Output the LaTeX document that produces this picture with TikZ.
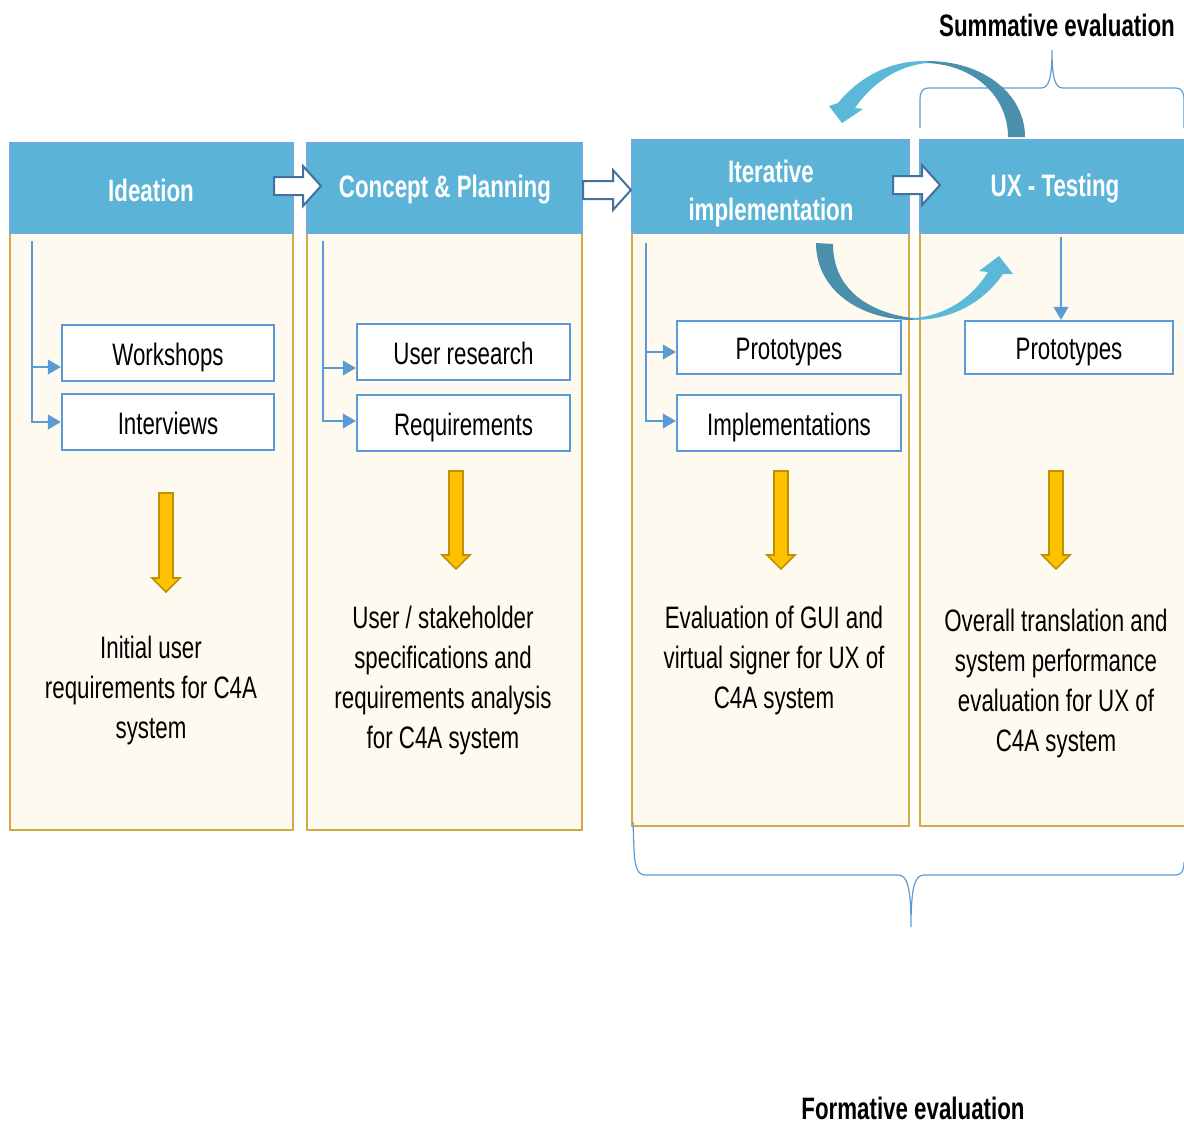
\documentclass[tikz,border=0pt]{standalone}
\usepackage{fontspec}
\setmainfont[FakeStretch=0.72]{Liberation Sans}
\usepackage{tikz}
\usetikzlibrary{positioning}
\usetikzlibrary{calc,arrows.meta}

\definecolor{HeadBlue}{RGB}{91,180,216}
\definecolor{HeadEdge}{RGB}{110,170,220}
\definecolor{BodyFill}{RGB}{255,250,240}
\definecolor{BodyEdge}{RGB}{212,170,70}
\definecolor{BoxEdge}{RGB}{91,155,213}
\definecolor{ArrEdge}{RGB}{65,113,156}
\definecolor{GoldFill}{RGB}{255,192,0}
\definecolor{GoldEdge}{RGB}{191,144,0}
\definecolor{LoopDark}{RGB}{74,144,173}
\definecolor{LoopLight}{RGB}{91,184,216}

\tikzset{
	header/.style={fill=HeadBlue, draw=HeadEdge, line width=0.6pt},
	body/.style={fill=BodyFill, draw=BodyEdge, line width=0.6pt},
	headtext/.style={text=white, font=\fontsize{15.5}{19}\selectfont\bfseries, align=center},
	subbox/.style={draw=BoxEdge, fill=white, line width=1.2pt, minimum height=28pt, inner sep=0pt,
		text height=12pt, text depth=0pt, font=\fontsize{15.5}{19}\selectfont},
	tree/.style={draw=BoxEdge, line width=0.6pt, -{Triangle[length=6.5pt,width=7.5pt]}},
	result/.style={font=\fontsize{15.5}{20}\selectfont, align=center},
	hollow/.style={fill=white, draw=ArrEdge, line width=1pt, line join=miter},
	gold/.style={fill=GoldFill, draw=GoldEdge, line width=0.8pt},
	brace/.style={draw=BoxEdge, line width=0.6pt},
	evaltext/.style={font=\fontsize{15.5}{19}\selectfont\bfseries},
}

% hollow arrow between two headers: x start, x tip, y
\newcommand{\flowarrow}[3]{%
	\draw[hollow] (#1,#3-9) -- (#2-18,#3-9) -- (#2-18,#3-20) -- (#2,#3)
		-- (#2-18,#3+20) -- (#2-18,#3+9) -- (#1,#3+9) -- cycle;}

% block arrow pointing down: x, y top, y tip
\newcommand{\goldarrow}[3]{%
	\draw[gold] (#1-7,#2) -- (#1+7,#2) -- (#1+7,#3-14) -- (#1+14,#3-14) -- (#1,#3)
		-- (#1-14,#3-14) -- (#1-7,#3-14) -- cycle;}

\begin{document}
\begin{tikzpicture}[x=0.5pt, y=-0.5pt]

	% ------------------------------------------------
	% Page size
	\useasboundingbox (0,0) rectangle (1184,1126);

	% ------------------------------------------------
	% Columns
	\draw[body]   (10,233)  rectangle (293,830);
	\draw[header] (10,143)  rectangle (293,233);
	\draw[body]   (307,233) rectangle (582,830);
	\draw[header] (307,143) rectangle (582,233);
	\draw[body]   (632,233) rectangle (909,826);
	\draw[header] (632,140) rectangle (909,233);
	\draw[body]   (920,233) rectangle (1186,826);
	\draw[header] (920,140) rectangle (1186,233);

	\node[headtext] (ideation)  at (151,190) {Ideation};
	\node[headtext] (concept)   at (445,190) {Concept \& Planning};
	\node[headtext] (iterative) at (771,193) {Iterative\\implementation};
	\node[headtext] (uxtest)    at (1055,189) {UX - Testing};

	% ----------------
	% Arrows between headers
	\flowarrow{274}{321}{186}
	\flowarrow{583}{631}{190}
	\flowarrow{893}{940}{185}

	% ------------------------------------------------
	% Activities
	\node[subbox, minimum width=106pt] (workshops)    at (168,353)   {Workshops};
	\node[subbox, minimum width=106pt] (interviews)   at (168,422)   {Interviews};
	\node[subbox, minimum width=106.5pt] (userres)    at (463.5,352) {User research};
	\node[subbox, minimum width=106.5pt] (requirements) at (463.5,423) {Requirements};
	\node[subbox, minimum width=112pt, minimum height=26.5pt] (protoimpl) at (789,347.5) {Prototypes};
	\node[subbox, minimum width=112pt] (implement)    at (789,423)   {Implementations};
	\node[subbox, minimum width=104pt, minimum height=26.5pt] (prototest) at (1069,347.5) {Prototypes};

	\coordinate (TreeA) at (32,241);
	\coordinate (TreeB) at (323,241);
	\coordinate (TreeC) at (646,243);
	\coordinate (TreeD) at (1061,237);

	\draw[tree] (TreeA) |- ([yshift=-7pt]workshops.west);
	\draw[tree] (TreeA) |- (interviews.west);
	\draw[tree] (TreeB) |- ([yshift=-8pt]userres.west);
	\draw[tree] (TreeB) |- ([yshift=1pt]requirements.west);
	\draw[tree] (TreeC) |- ([yshift=-2.25pt]protoimpl.west);
	\draw[tree] (TreeC) |- ([yshift=1pt]implement.west);
	\draw[tree] (TreeD) -- (TreeD |- prototest.north);

	% ------------------------------------------------
	% Outcomes
	\goldarrow{166}{493}{592}
	\goldarrow{456}{471}{569}
	\goldarrow{781}{471}{569}
	\goldarrow{1056}{471}{569}

	\node[result] (outideation)  at (151,690)   {Initial user\\requirements for C4A\\system};
	\node[result] (outconcept)   at (443,680.5) {User / stakeholder\\specifications and\\requirements analysis\\for C4A system};
	\node[result] (outiterative) at (774,660)   {Evaluation of GUI and\\virtual signer for UX of\\C4A system};
	\node[result] (outuxtest)    at (1056,683.5) {Overall translation and\\system performance\\evaluation for UX of\\C4A system};

	% ------------------------------------------------
	% Evaluation braces
	\draw[brace] (920,128) -- (920,100) .. controls (920,92) and (922,88) .. (929,88)
		-- (1041,88) .. controls (1049,88) and (1052,78) .. (1052,50)
		.. controls (1052,78) and (1055,88) .. (1063,88)
		-- (1175,88) .. controls (1182,88) and (1184,92) .. (1184,100) -- (1184,128);
	\draw[brace] (633,822) -- (634,850) .. controls (635,869) and (638,875) .. (646,875)
		-- (898,875) .. controls (907,875) and (911,886) .. (911,927)
		.. controls (911,886) and (915,875) .. (924,875)
		-- (1176,875) .. controls (1182,875) and (1184,870) .. (1184,862);

	\node[evaltext] (summative) at (1057,25)  {Summative evaluation};
	\node[evaltext] (formative) at (913,1108) {Formative evaluation};

	% ----------------
	% Iteration loop
	\fill[LoopDark] (1025,137) .. controls (1025,95) and (985,61) .. (927,61)
		-- (927,63) .. controls (975,65) and (1008,97) .. (1008,137) -- cycle;
	\fill[LoopLight] (927,61) .. controls (885,60) and (855,82) .. (838,103)
		-- (829,106) -- (842,123) -- (863,109) -- (855,108)
		.. controls (870,86) and (895,66) .. (927,63) -- cycle;

	\fill[LoopDark] (816,243) .. controls (816,290) and (860,320) .. (913,320)
		-- (913,318) .. controls (870,313) and (833,290) .. (833,244) -- cycle;
	\fill[LoopLight] (913,320) .. controls (955,320) and (985,300) .. (1003,274)
		-- (1013,274) -- (999,256) -- (979,271) -- (988,272)
		.. controls (972,298) and (945,316) .. (913,318) -- cycle;

\end{tikzpicture}
\end{document}
